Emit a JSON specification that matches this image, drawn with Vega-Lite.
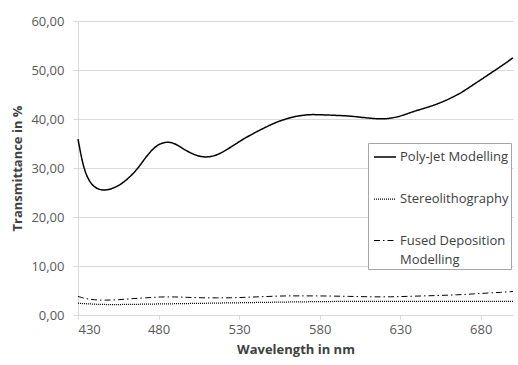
{
  "$schema": "https://vega.github.io/schema/vega-lite/v6.json",
  "width": 435,
  "height": 294,
  "autosize": {"type": "none"},
  "padding": {"left": 78, "top": 21, "right": 5, "bottom": 50},
  "background": "white",
  "config": {"view": {"stroke": null}, "font": "Open Sans"},
  "data": {"values": [
    {"s": "Poly-Jet Modelling", "wl": 430, "t": 35.9},
    {"s": "Poly-Jet Modelling", "wl": 433, "t": 30.6},
    {"s": "Poly-Jet Modelling", "wl": 436, "t": 27.8},
    {"s": "Poly-Jet Modelling", "wl": 440, "t": 26.0},
    {"s": "Poly-Jet Modelling", "wl": 445, "t": 25.4},
    {"s": "Poly-Jet Modelling", "wl": 450, "t": 25.6},
    {"s": "Poly-Jet Modelling", "wl": 456, "t": 26.5},
    {"s": "Poly-Jet Modelling", "wl": 461, "t": 27.8},
    {"s": "Poly-Jet Modelling", "wl": 467, "t": 29.8},
    {"s": "Poly-Jet Modelling", "wl": 472, "t": 32.2},
    {"s": "Poly-Jet Modelling", "wl": 477, "t": 34.1},
    {"s": "Poly-Jet Modelling", "wl": 481, "t": 35.0},
    {"s": "Poly-Jet Modelling", "wl": 486, "t": 35.4},
    {"s": "Poly-Jet Modelling", "wl": 491, "t": 34.9},
    {"s": "Poly-Jet Modelling", "wl": 497, "t": 33.5},
    {"s": "Poly-Jet Modelling", "wl": 503, "t": 32.6},
    {"s": "Poly-Jet Modelling", "wl": 508, "t": 32.2},
    {"s": "Poly-Jet Modelling", "wl": 513, "t": 32.3},
    {"s": "Poly-Jet Modelling", "wl": 518, "t": 32.9},
    {"s": "Poly-Jet Modelling", "wl": 523, "t": 33.9},
    {"s": "Poly-Jet Modelling", "wl": 527, "t": 34.7},
    {"s": "Poly-Jet Modelling", "wl": 532, "t": 35.8},
    {"s": "Poly-Jet Modelling", "wl": 537, "t": 36.7},
    {"s": "Poly-Jet Modelling", "wl": 542, "t": 37.6},
    {"s": "Poly-Jet Modelling", "wl": 547, "t": 38.4},
    {"s": "Poly-Jet Modelling", "wl": 552, "t": 39.2},
    {"s": "Poly-Jet Modelling", "wl": 557, "t": 39.8},
    {"s": "Poly-Jet Modelling", "wl": 563, "t": 40.4},
    {"s": "Poly-Jet Modelling", "wl": 568, "t": 40.7},
    {"s": "Poly-Jet Modelling", "wl": 573, "t": 40.9},
    {"s": "Poly-Jet Modelling", "wl": 578, "t": 40.9},
    {"s": "Poly-Jet Modelling", "wl": 586, "t": 40.8},
    {"s": "Poly-Jet Modelling", "wl": 593, "t": 40.7},
    {"s": "Poly-Jet Modelling", "wl": 599, "t": 40.6},
    {"s": "Poly-Jet Modelling", "wl": 607, "t": 40.3},
    {"s": "Poly-Jet Modelling", "wl": 613, "t": 40.1},
    {"s": "Poly-Jet Modelling", "wl": 619, "t": 40.0},
    {"s": "Poly-Jet Modelling", "wl": 623, "t": 40.1},
    {"s": "Poly-Jet Modelling", "wl": 628, "t": 40.4},
    {"s": "Poly-Jet Modelling", "wl": 633, "t": 40.9},
    {"s": "Poly-Jet Modelling", "wl": 638, "t": 41.5},
    {"s": "Poly-Jet Modelling", "wl": 643, "t": 42.0},
    {"s": "Poly-Jet Modelling", "wl": 649, "t": 42.6},
    {"s": "Poly-Jet Modelling", "wl": 654, "t": 43.2},
    {"s": "Poly-Jet Modelling", "wl": 659, "t": 43.9},
    {"s": "Poly-Jet Modelling", "wl": 664, "t": 44.7},
    {"s": "Poly-Jet Modelling", "wl": 669, "t": 45.6},
    {"s": "Poly-Jet Modelling", "wl": 674, "t": 46.7},
    {"s": "Poly-Jet Modelling", "wl": 680, "t": 48.0},
    {"s": "Poly-Jet Modelling", "wl": 685, "t": 49.1},
    {"s": "Poly-Jet Modelling", "wl": 690, "t": 50.2},
    {"s": "Poly-Jet Modelling", "wl": 695, "t": 51.3},
    {"s": "Poly-Jet Modelling", "wl": 700, "t": 52.5},
    {"s": "Stereolithography", "wl": 430, "t": 2.4},
    {"s": "Stereolithography", "wl": 440, "t": 2.2},
    {"s": "Stereolithography", "wl": 450, "t": 2.1},
    {"s": "Stereolithography", "wl": 470, "t": 2.2},
    {"s": "Stereolithography", "wl": 490, "t": 2.3},
    {"s": "Stereolithography", "wl": 510, "t": 2.4},
    {"s": "Stereolithography", "wl": 530, "t": 2.5},
    {"s": "Stereolithography", "wl": 550, "t": 2.6},
    {"s": "Stereolithography", "wl": 570, "t": 2.7},
    {"s": "Stereolithography", "wl": 600, "t": 2.8},
    {"s": "Stereolithography", "wl": 630, "t": 2.8},
    {"s": "Stereolithography", "wl": 660, "t": 2.8},
    {"s": "Stereolithography", "wl": 680, "t": 2.8},
    {"s": "Stereolithography", "wl": 700, "t": 2.8},
    {"s": "Fused Deposition Modelling", "wl": 430, "t": 3.8},
    {"s": "Fused Deposition Modelling", "wl": 435, "t": 3.3},
    {"s": "Fused Deposition Modelling", "wl": 440, "t": 3.1},
    {"s": "Fused Deposition Modelling", "wl": 446, "t": 3.0},
    {"s": "Fused Deposition Modelling", "wl": 455, "t": 3.1},
    {"s": "Fused Deposition Modelling", "wl": 462, "t": 3.3},
    {"s": "Fused Deposition Modelling", "wl": 472, "t": 3.5},
    {"s": "Fused Deposition Modelling", "wl": 481, "t": 3.7},
    {"s": "Fused Deposition Modelling", "wl": 490, "t": 3.7},
    {"s": "Fused Deposition Modelling", "wl": 498, "t": 3.6},
    {"s": "Fused Deposition Modelling", "wl": 507, "t": 3.5},
    {"s": "Fused Deposition Modelling", "wl": 516, "t": 3.5},
    {"s": "Fused Deposition Modelling", "wl": 525, "t": 3.5},
    {"s": "Fused Deposition Modelling", "wl": 533, "t": 3.6},
    {"s": "Fused Deposition Modelling", "wl": 541, "t": 3.7},
    {"s": "Fused Deposition Modelling", "wl": 549, "t": 3.8},
    {"s": "Fused Deposition Modelling", "wl": 558, "t": 3.9},
    {"s": "Fused Deposition Modelling", "wl": 566, "t": 3.9},
    {"s": "Fused Deposition Modelling", "wl": 582, "t": 3.9},
    {"s": "Fused Deposition Modelling", "wl": 598, "t": 3.8},
    {"s": "Fused Deposition Modelling", "wl": 613, "t": 3.7},
    {"s": "Fused Deposition Modelling", "wl": 624, "t": 3.7},
    {"s": "Fused Deposition Modelling", "wl": 634, "t": 3.8},
    {"s": "Fused Deposition Modelling", "wl": 645, "t": 3.9},
    {"s": "Fused Deposition Modelling", "wl": 655, "t": 4.0},
    {"s": "Fused Deposition Modelling", "wl": 665, "t": 4.1},
    {"s": "Fused Deposition Modelling", "wl": 675, "t": 4.3},
    {"s": "Fused Deposition Modelling", "wl": 685, "t": 4.5},
    {"s": "Fused Deposition Modelling", "wl": 692, "t": 4.6},
    {"s": "Fused Deposition Modelling", "wl": 700, "t": 4.8}
  ]},
  "mark": {"type": "line", "interpolate": "basis", "color": "black"},
  "encoding": {
    "x": {
      "field": "wl", "type": "quantitative",
      "scale": {"domain": [430, 700], "nice": false, "zero": false},
      "axis": {
        "values": [430, 480, 530, 580, 630, 680],
        "title": "Wavelength in nm",
        "grid": false,
        "domainColor": "#d9d9d9", "tickColor": "#d9d9d9", "tickSize": 4,
        "labelFontSize": 13, "labelColor": "#595959", "labelPadding": 4,
        "titleFontSize": 13, "titleFontWeight": "bold", "titleColor": "#404040",
        "titleX": 217.5, "titleY": 34, "titleBaseline": "middle", "titleAlign": "center"
      }
    },
    "y": {
      "field": "t", "type": "quantitative",
      "scale": {"domain": [0, 60], "nice": false},
      "axis": {
        "values": [0, 10, 20, 30, 40, 50, 60],
        "labelExpr": "replace(format(datum.value, '.2f'), '.', ',')",
        "title": "Transmittance in %",
        "grid": true, "gridColor": "#d9d9d9",
        "domainColor": "#d9d9d9", "tickColor": "#d9d9d9", "tickSize": 5,
        "labelFontSize": 13, "labelColor": "#595959", "labelPadding": 9,
        "titleFontSize": 13, "titleFontWeight": "bold", "titleColor": "#404040",
        "titleAngle": 270, "titleX": -61, "titleY": 147, "titleBaseline": "middle", "titleAlign": "center"
      }
    },
    "strokeDash": {
      "field": "s", "type": "nominal",
      "scale": {
        "domain": ["Poly-Jet Modelling", "Stereolithography", "Fused Deposition Modelling"],
        "range": [[1, 0], [1, 1], [6, 3, 1.5, 3]]
      },
      "legend": {
        "title": null,
        "orient": "none", "legendX": 290, "legendY": 122,
        "fillColor": "white", "strokeColor": "#a6a6a6", "padding": 2, "symbolOffset": 3,
        "symbolType": "stroke", "symbolSize": 484, "symbolStrokeWidth": 1.3, "symbolStrokeColor": "black",
        "labelFontSize": 13, "labelColor": "#404040", "labelLimit": 300, "labelOffset": 3,
        "rowPadding": 23,
        "labelExpr": "datum.label == 'Fused Deposition Modelling' ? ['Fused Deposition', 'Modelling'] : datum.label",
        "encode": {
          "labels": {"update": {"lineHeight": {"value": 19}}}
        }
      }
    },
    "strokeWidth": {
      "field": "s", "type": "nominal",
      "scale": {
        "domain": ["Poly-Jet Modelling", "Stereolithography", "Fused Deposition Modelling"],
        "range": [1.5, 1, 1.2]
      },
      "legend": null
    }
  }
}
